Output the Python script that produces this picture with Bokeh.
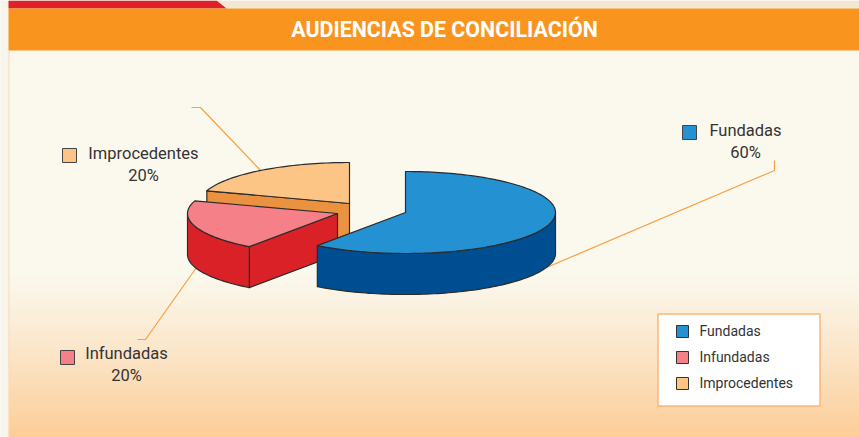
import math
import numpy as np
from bokeh.plotting import figure
from bokeh.embed import file_html
from bokeh.resources import INLINE
from bokeh.models import Range1d

categories = ["Fundadas", "Infundadas", "Improcedentes"]
values = [60, 20, 20]
pct_labels = ["60%", "20%", "20%"]
title = "AUDIENCIAS DE CONCILIACIÓN"

top_colors = ["#2491D2", "#F58088", "#FDC585"]
side_colors = ["#004E92", "#DA2128", "#EB9240"]
edge = "#2B2B2B"
FONT = "Roboto"

W, H = 859, 437
p = figure(width=W, height=H, output_backend="svg", toolbar_location=None,
           x_range=Range1d(0, W), y_range=Range1d(H, 0), min_border=0,
           outline_line_color=None, background_fill_color="#FBF8EE",
           border_fill_color=None)
p.axis.visible = False
p.xgrid.visible = False
p.ygrid.visible = False

# page background
def mix(a, b, t):
    return "#%02X%02X%02X" % tuple(int(round(a[i] + (b[i] - a[i]) * t)) for i in range(3))

c0, c1 = (251, 248, 238), (253, 190, 122)
ys = np.arange(270, H, 1)
p.quad(left=8, right=W, top=ys, bottom=ys + 1,
       fill_color=[mix(c0, c1, ((y - 270) / (H - 270)) ** 1.15) for y in ys], line_color=None)
p.quad(left=[0], right=[8], top=[0], bottom=[H], fill_color="#F7F4EA", line_color=None)
p.line([8.5, 8.5], [50, H], line_color="#FBD9B0", line_width=1)

# top strip and header
p.quad(left=[8], right=[W], top=[0], bottom=[8], fill_color="#F1E7D2", line_color=None)
p.patch([8, 216, 226, 8], [0, 0, 8, 8], fill_color="#DF2129", line_color=None)
p.quad(left=[8], right=[W], top=[8], bottom=[50], fill_color="#F9951F", line_color=None)
p.text([444], [29], text=[title], text_align="center", text_baseline="middle",
       text_color="white", text_font={"value": FONT}, text_font_style="bold", text_font_size="21.4px")

# leader lines
leader = "#F9A03F"
p.line([191, 200, 261], [107, 107, 171], line_color=leader, line_width=1.2)
p.line([137, 145, 196], [339, 339, 267], line_color=leader, line_width=1.2)
p.line([546, 774, 774], [267, 170, 160], line_color=leader, line_width=1.2)

# exploded pie: angle is clockwise from the top
RX, RY, DEPTH = 150, 41, 41
centres = [(405, 212), (337, 213), (349, 203)]

total = sum(values)
starts, ends = [], []
acc = 0
for v in values:
    starts.append(acc / total * 2 * math.pi)
    acc += v
    ends.append(acc / total * 2 * math.pi)

def rim(cx, cy, a0, a1, drop=0):
    n = max(2, int(abs(a1 - a0) * 40))
    t = np.linspace(a0, a1, n)
    return list(cx + RX * np.sin(t)), list(cy - RY * np.cos(t) + drop)

def face(xs, ys, color):
    p.patch(xs, ys, fill_color=color, line_color=edge, line_width=1.2, line_join="round")

for i in [2, 1, 0]:
    cx, cy = centres[i]
    a0, a1 = starts[i], ends[i]
    # cut face on the trailing edge, when it looks to the viewer
    if i in (1, 2):
        ex, ey = rim(cx, cy, a0, a0)
        ex, ey = ex[:1], ey[:1]
        face([ex[0], cx, cx, ex[0]], [ey[0], cy, cy + DEPTH, ey[0] + DEPTH], side_colors[i])
    # outer wall: only the front half of the rim is visible
    w0, w1 = max(a0, math.pi / 2), min(a1, 3 * math.pi / 2)
    if w1 > w0:
        tx, ty = rim(cx, cy, w0, w1)
        bx, by = rim(cx, cy, w0, w1, DEPTH)
        face(tx + bx[::-1], ty + by[::-1], side_colors[i])
    # top
    tx, ty = rim(cx, cy, a0, a1)
    face([cx] + tx, [cy] + ty, top_colors[i])

# callouts
swatch_x = [689, 67, 69]
swatch_y = [132, 357, 155]
label_x = [745, 126, 143]
label_y = [130, 353, 153]
for i in [0, 1, 2]:
    p.rect([swatch_x[i]], [swatch_y[i]], width=14, height=14, fill_color=top_colors[i],
           line_color="#444444", line_width=1)
    p.text([label_x[i]], [label_y[i]], text=[categories[i]], text_align="center", text_baseline="middle",
           text_color="#333333", text_font={"value": FONT}, text_font_size="16.5px")
    p.text([label_x[i]], [label_y[i] + 22], text=[pct_labels[i]], text_align="center", text_baseline="middle",
           text_color="#333333", text_font={"value": FONT}, text_font_size="16.5px")

# legend box
p.quad(left=[657.5], right=[819.5], top=[313.5], bottom=[405.5], fill_color="white",
       line_color="#FBB677", line_width=1.5)
leg_y = [331, 357, 383]
for i in range(3):
    p.rect([682], [leg_y[i]], width=12, height=12, fill_color=top_colors[i], line_color="#333333", line_width=1)
    p.text([699], [leg_y[i] - 1], text=[categories[i]], text_align="left", text_baseline="middle",
           text_color="#333333", text_font={"value": FONT}, text_font_size="14px")

open("out.html", "w").write(file_html(p, INLINE))
